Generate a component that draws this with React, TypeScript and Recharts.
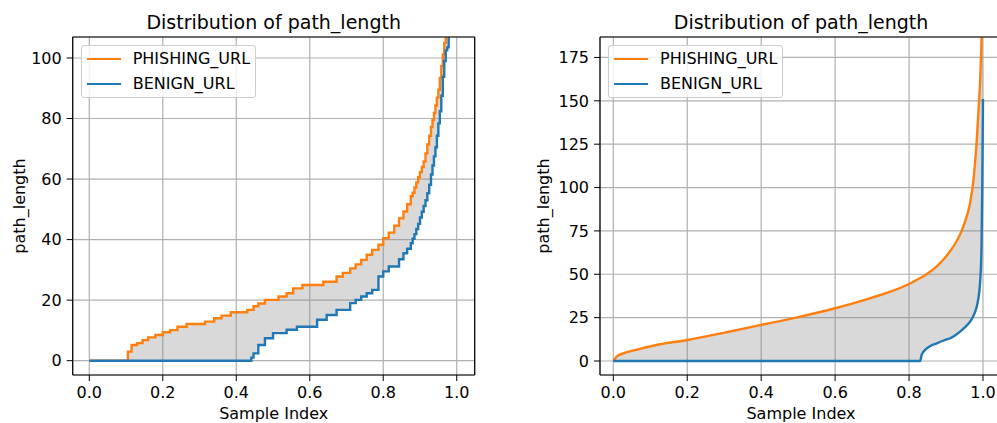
import { ComposedChart, Line, Area, XAxis, YAxis, CartesianGrid, Legend } from "recharts";

// sorted path_length values against normalised sample index
const sampleLeft = [
  0, 0.105, 0.115, 0.13, 0.145, 0.16, 0.18, 0.2, 0.22, 0.24, 0.265, 0.315, 0.34, 0.36, 0.385, 0.43,
  0.441, 0.447, 0.46, 0.478, 0.5, 0.515, 0.537, 0.555, 0.565, 0.58, 0.62, 0.637, 0.646, 0.673, 0.69,
  0.71, 0.725, 0.74, 0.755, 0.77, 0.787, 0.8, 0.815, 0.83, 0.843, 0.855, 0.865, 0.875,
  0.88, 0.885, 0.89, 0.895, 0.9, 0.905, 0.91, 0.915, 0.92, 0.925, 0.93, 0.934, 0.938, 0.942,
  0.946, 0.95, 0.954, 0.958, 0.962, 0.966, 0.97, 0.974, 0.978, 0.982,
];
const phishingLeft = [
  0, 3.0, 5.2, 5.8, 6.8, 7.7, 8.5, 9.4, 10.1, 11.2, 12.1, 12.9, 14.0, 14.9, 16.0, 16.8,
  16.8, 18.0, 18.9, 20.1, 20.1, 21.2, 22.3, 23.9, 23.9, 25.0, 25.0, 26.1, 26.1, 27.8, 29.0,
  30.5, 31.8, 33.3, 35.0, 36.6, 38.3, 40.5, 42.3, 44.6, 47.0, 49.3, 51.7, 54.3,
  55.5, 57.2, 58.9, 60.6, 62.3, 64.0, 65.8, 68.5, 71.4, 74.3, 77.2, 79.5, 81.8, 84.3,
  86.9, 89.5, 93.4, 97.3, 101.2, 105.0, 109.0, 114.0, 120.0, 127.0,
];
const benignLeft = [
  0, 0, 0, 0, 0, 0, 0, 0, 0, 0, 0, 0, 0, 0, 0, 0,
  1.0, 2.4, 5.2, 7.4, 9.1, 9.1, 10.2, 10.2, 11.2, 11.2, 13.5, 13.5, 15.1, 16.8, 16.8,
  19.0, 20.1, 21.2, 22.3, 23.4, 27.8, 29.5, 31.1, 31.1, 33.5, 35.5, 37.0, 38.8,
  40.3, 41.8, 43.5, 45.2, 47.3, 49.2, 51.1, 53.0, 55.3, 58.1, 61.5, 64.5, 67.5, 70.5,
  74.3, 78.4, 82.4, 87.5, 93.8, 99.0, 102.5, 103.5, 108.0, 118.0,
];

const sampleRight = [
  0, 0.009, 0.027, 0.059, 0.117, 0.2, 0.3, 0.4, 0.5, 0.6, 0.7, 0.8, 0.83, 0.834, 0.848, 0.875,
  0.9, 0.911, 0.938, 0.95, 0.965, 0.974, 0.983, 0.99, 0.992, 0.994, 0.996, 0.998, 1.0,
];
const phishingRight = [
  0, 2.5, 4.4, 6.3, 9.2, 12.1, 16.3, 20.8, 25.3, 30.4, 36.5, 44.4, 47.8, 48.3, 50.2, 54.6,
  60.3, 63.3, 73.0, 79.5, 91.0, 104.0, 127.0, 152.0, 160.0, 172.0, 185.0, 210.0, 260.0,
];
const benignRight = [
  0, 0, 0, 0, 0, 0, 0, 0, 0, 0, 0, 0, 0, 3.5, 7.3, 10.2,
  12.3, 13.1, 16.9, 19.2, 22.7, 26.0, 31.3, 40.0, 44.8, 52.0, 66.0, 100.0, 151.0,
];

const xTicks = [0, 0.2, 0.4, 0.6, 0.8, 1.0];
const yTicksLeft = [0, 20, 40, 60, 80, 100];
const yTicksRight = [0, 25, 50, 75, 100, 125, 150, 175];
const seriesNames = ["PHISHING_URL", "BENIGN_URL"];
const chartTitle = "Distribution of path_length";
const xLabel = "Sample Index";
const yLabel = "path_length";

const ORANGE = "#ff7f0e";
const BLUE = "#1f77b4";
const FONT = "'DejaVu Sans', sans-serif";
const PLOT_W = 402;

const toRows = (xs: number[], p: number[], b: number[]) =>
  xs.map((x, i) => ({ x, phishing: p[i], benign: b[i] }));

const LegendBox = (props: any) => {
  const items = [...(props.payload ?? [])]
    .filter((p: any) => seriesNames.includes(p.value))
    .sort((a: any, b: any) => seriesNames.indexOf(a.value) - seriesNames.indexOf(b.value));
  return (
    <div
      style={{
        width: 175,
        height: 53,
        boxSizing: "border-box",
        border: "1px solid #cccccc",
        borderRadius: 3,
        background: "rgba(255,255,255,0.8)",
        paddingTop: 1,
        fontFamily: FONT,
        fontSize: 16,
        color: "#000",
      }}
    >
      {items.map((item: any) => (
        <div key={item.value} style={{ display: "flex", alignItems: "center", height: 24.4 }}>
          <span
            style={{ width: 34, borderTop: `2.4px solid ${item.color}`, marginLeft: 4.7, marginRight: 12 }}
          />
          <span style={{ lineHeight: "16px" }}>{item.value}</span>
        </div>
      ))}
    </div>
  );
};

type PanelProps = {
  rows: { x: number; phishing: number; benign: number }[];
  left: number;
  width: number;
  axisWidth: number;
  xDomain: [number, number];
  yDomain: [number, number];
  yTicks: number[];
  curve: "stepAfter" | "monotone";
};

const frameLine = { stroke: "#000", strokeWidth: 1.2 };
const tickFont = { fill: "#000", fontSize: 16, fontFamily: FONT };

const Panel = ({ rows, left, width, axisWidth, xDomain, yDomain, yTicks, curve }: PanelProps) => (
  <div style={{ position: "absolute", left, top: 0 }}>
    <ComposedChart
      width={width}
      height={423}
      data={rows}
      margin={{ top: 36, right: width - axisWidth - PLOT_W - 1, bottom: 0, left: 0 }}
    >
      <CartesianGrid stroke="#b0b0b0" strokeWidth={1.2} />
      <XAxis
        dataKey="x"
        type="number"
        domain={xDomain}
        allowDataOverflow
        ticks={xTicks}
        tickFormatter={(v: number) => v.toFixed(1)}
        height={48}
        tickSize={6}
        tickMargin={6}
        stroke="#000"
        axisLine={frameLine}
        tick={tickFont}
      />
      <XAxis xAxisId="top" orientation="top" type="number" domain={xDomain} height={1} tick={false} tickLine={false} axisLine={frameLine} />
      <YAxis
        type="number"
        domain={yDomain}
        allowDataOverflow
        ticks={yTicks}
        width={axisWidth}
        tickSize={6}
        tickMargin={5}
        stroke="#000"
        axisLine={frameLine}
        tick={tickFont}
      />
      <YAxis yAxisId="right" orientation="right" type="number" domain={yDomain} width={1} tick={false} tickLine={false} axisLine={frameLine} />
      <Area
        type={curve}
        dataKey={(d: any) => [d.benign, d.phishing]}
        fill="gray"
        fillOpacity={0.3}
        stroke="none"
        legendType="none"
        isAnimationActive={false}
      />
      <Line type={curve} dataKey="phishing" name={seriesNames[0]} stroke={ORANGE} strokeWidth={2.4} dot={false} isAnimationActive={false} />
      <Line type={curve} dataKey="benign" name={seriesNames[1]} stroke={BLUE} strokeWidth={2.4} dot={false} isAnimationActive={false} />
      <Legend
        layout="vertical"
        align="center"
        verticalAlign="middle"
        content={LegendBox}
        wrapperStyle={{ left: axisWidth + 8.3, top: 45, width: 175, height: 53 }}
      />
    </ComposedChart>
  </div>
);

const Caption = ({ x, y, size, text, rotate = false }: { x: number; y: number; size: number; text: string; rotate?: boolean }) => (
  <div
    style={{
      position: "absolute",
      left: x,
      top: y,
      fontSize: size,
      lineHeight: `${size}px`,
      whiteSpace: "nowrap",
      transform: `translate(-50%, -50%)${rotate ? " rotate(-90deg)" : ""}`,
      color: "#000",
    }}
  >
    {text}
  </div>
);

export default function App() {
  return (
    <div
      style={{
        position: "absolute",
        left: 0,
        top: 0,
        width: 997,
        height: 423,
        overflow: "hidden",
        background: "#fff",
        fontFamily: FONT,
      }}
    >
      <Panel
        rows={toRows(sampleLeft, phishingLeft, benignLeft)}
        left={0}
        width={500}
        axisWidth={72.7}
        xDomain={[-0.0452, 1.0489]}
        yDomain={[-4.73, 106.93]}
        yTicks={yTicksLeft}
        curve="stepAfter"
      />
      <Panel
        rows={toRows(sampleRight, phishingRight, benignRight)}
        left={500}
        width={510}
        axisWidth={100}
        xDomain={[-0.036, 1.0514]}
        yDomain={[-8.08, 186.8]}
        yTicks={yTicksRight}
        curve="monotone"
      />
      <Caption x={273.7} y={21.7} size={19} text={chartTitle} />
      <Caption x={801} y={21.7} size={19} text={chartTitle} />
      <Caption x={273.7} y={413.8} size={16} text={xLabel} />
      <Caption x={801} y={413.8} size={16} text={xLabel} />
      <Caption x={20.3} y={206} size={16} text={yLabel} rotate />
      <Caption x={544} y={206} size={16} text={yLabel} rotate />
    </div>
  );
}
